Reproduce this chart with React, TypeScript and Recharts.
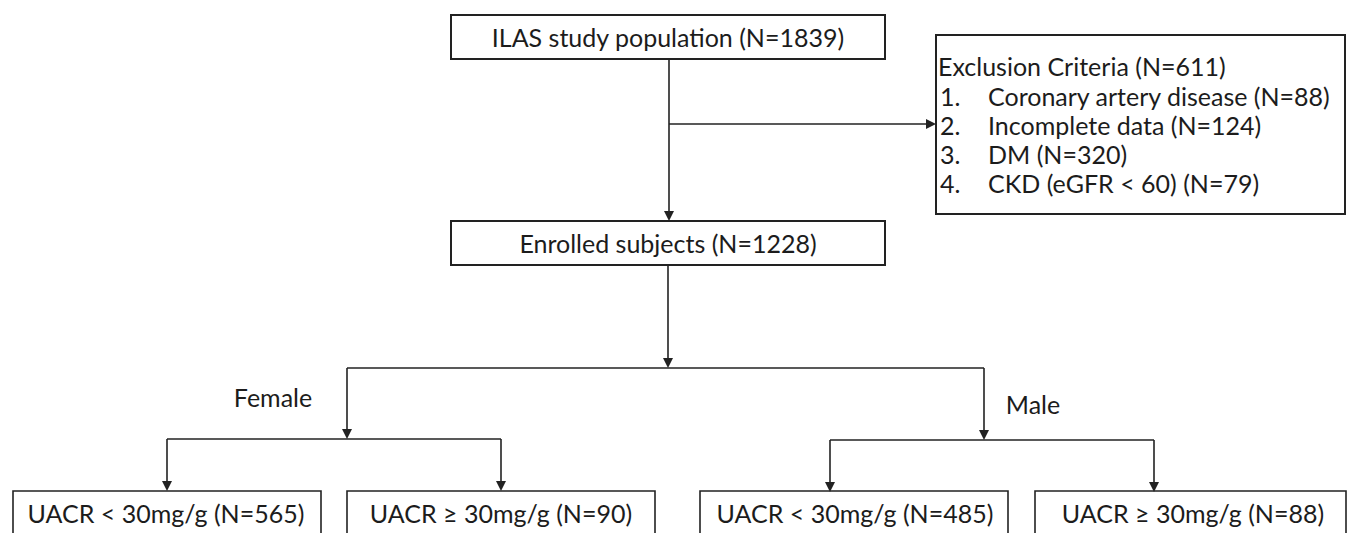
import { ScatterChart, Scatter, XAxis, YAxis, ReferenceArea, ReferenceLine } from 'recharts'

// flow chart content
const stageNames = ['ILAS study population', 'Enrolled subjects']
const stageCounts = [1839, 1228]
const exclusionTotal = 611
const exclusionReasons = ['Coronary artery disease', 'Incomplete data', 'DM', 'CKD (eGFR < 60)']
const exclusionCounts = [88, 124, 320, 79]
const sexGroups = ['Female', 'Male']
const uacrClasses = ['UACR < 30mg/g', 'UACR \u2265 30mg/g']
const femaleCounts = [565, 90]
const maleCounts = [485, 88]

// diagram layout, in diagram units (x 0-1348, y 0-533 top down)
const stageBoxes = [
  { x1: 451, x2: 885, y1: 15, y2: 59, cx: 668, base: 47 },
  { x1: 451, x2: 885, y1: 221, y2: 265, cx: 668, base: 253 },
]
const exclusionBox = { x1: 936, x2: 1345, y1: 35, y2: 214 }
const exclusionRows = [76, 106, 135, 164, 193]
const groupLabelPos = [{ x: 273, base: 407 }, { x: 1033, base: 414 }]
const leafBoxes = [
  { x1: 13, x2: 321, cx: 166 },
  { x1: 347, x2: 655, cx: 501 },
  { x1: 700, x2: 1008, cx: 855 },
  { x1: 1035, x2: 1346, cx: 1193 },
]
const leafTop = 491
const leafBase = 523

const connectors = [
  [[669, 59], [669, 214]],
  [[669, 124], [928, 124]],
  [[668, 265], [668, 360]],
  [[347, 368], [984, 368]],
  [[347, 368], [347, 431]],
  [[984, 368], [984, 432]],
  [[167, 439], [501, 439]],
  [[167, 439], [167, 483]],
  [[501, 439], [501, 483]],
  [[830, 440], [1154, 440]],
  [[830, 440], [830, 484]],
  [[1154, 440], [1154, 484]],
]

const arrowHeads = [
  { x: 669, y: 221, dir: 'down' },
  { x: 936, y: 124, dir: 'right' },
  { x: 668, y: 368, dir: 'down' },
  { x: 347, y: 439, dir: 'down' },
  { x: 984, y: 440, dir: 'down' },
  { x: 167, y: 491, dir: 'down' },
  { x: 501, y: 491, dir: 'down' },
  { x: 830, y: 492, dir: 'down' },
  { x: 1154, y: 492, dir: 'down' },
]

const labels = [
  ...stageBoxes.map((b, i) => ({
    x: b.cx, y: b.base, anchor: 'middle', text: `${stageNames[i]} (N=${stageCounts[i]})`,
  })),
  { x: 938, y: exclusionRows[0], anchor: 'start', text: `Exclusion Criteria (N=${exclusionTotal})` },
  ...exclusionReasons.map((r, i) => ({
    x: 940, y: exclusionRows[i + 1], anchor: 'start', text: `${i + 1}.`,
  })),
  ...exclusionReasons.map((r, i) => ({
    x: 988, y: exclusionRows[i + 1], anchor: 'start', text: `${r} (N=${exclusionCounts[i]})`,
  })),
  ...sexGroups.map((g, i) => ({
    x: groupLabelPos[i].x, y: groupLabelPos[i].base, anchor: 'middle', text: g,
  })),
  ...[...femaleCounts, ...maleCounts].map((n, i) => ({
    x: leafBoxes[i].cx, y: leafBase, anchor: 'middle', text: `${uacrClasses[i % 2]} (N=${n})`,
  })),
]

const INK = '#222222'

const TextMark = (props: any) => {
  const { cx, cy, payload } = props
  return (
    <text x={cx} y={cy} textAnchor={payload.anchor} fontFamily="Lato" fontSize={25} fill="#1c1c1c">
      {payload.text}
    </text>
  )
}

const ArrowMark = (props: any) => {
  const { cx, cy, payload } = props
  const pts = payload.dir === 'down'
    ? `${cx - 5},${cy - 10} ${cx + 5},${cy - 10} ${cx},${cy}`
    : `${cx - 10},${cy - 5} ${cx - 10},${cy + 5} ${cx},${cy}`
  return <polygon points={pts} fill={INK} />
}

export default function App() {
  return (
    <div style={{ position: 'absolute', left: 0, top: 0, background: '#fff' }}>
      <ScatterChart width={1348} height={533} margin={{ top: 0, right: 0, bottom: 0, left: 0 }}>
        <XAxis type="number" dataKey="x" domain={[0, 1348]} hide allowDataOverflow />
        <YAxis type="number" dataKey="y" domain={[0, 533]} reversed hide allowDataOverflow />
        {stageBoxes.map((b, i) => (
          <ReferenceArea key={`s${i}`} x1={b.x1} x2={b.x2} y1={b.y1} y2={b.y2}
            fill="#fff" fillOpacity={1} stroke={INK} strokeWidth={2} />
        ))}
        <ReferenceArea x1={exclusionBox.x1} x2={exclusionBox.x2} y1={exclusionBox.y1} y2={exclusionBox.y2}
          fill="#fff" fillOpacity={1} stroke={INK} strokeWidth={2} />
        {leafBoxes.map((b, i) => (
          <ReferenceArea key={`l${i}`} x1={b.x1} x2={b.x2} y1={leafTop} y2={560} ifOverflow="hidden"
            fill="#fff" fillOpacity={1} stroke={INK} strokeWidth={1.6} />
        ))}
        {connectors.map((c, i) => (
          <ReferenceLine key={`c${i}`} segment={[{ x: c[0][0], y: c[0][1] }, { x: c[1][0], y: c[1][1] }]}
            stroke={INK} strokeWidth={1.6} />
        ))}
        <Scatter data={arrowHeads} shape={ArrowMark} isAnimationActive={false} />
        <Scatter data={labels} shape={TextMark} isAnimationActive={false} />
      </ScatterChart>
    </div>
  )
}
